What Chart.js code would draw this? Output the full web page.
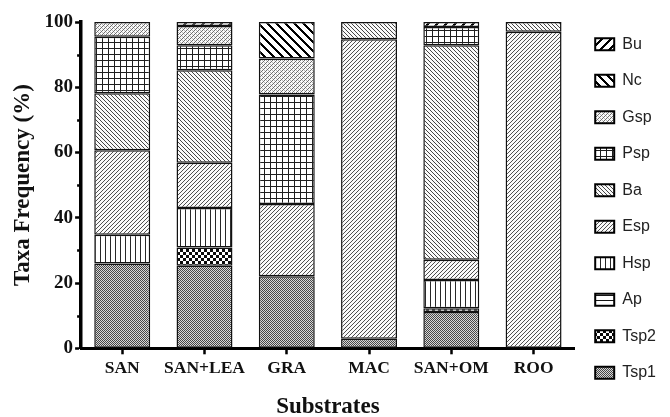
<!DOCTYPE html>
<html>
<head>
<meta charset="utf-8">
<script src="https://cdn.jsdelivr.net/npm/chart.js@4.4.1/dist/chart.umd.min.js"></script>
<style>
  html, body { margin: 0; padding: 0; background: #fff; }
  #wrap { width: 670px; height: 417px; }
</style>
</head>
<body>
<div id="wrap"><canvas id="chart" width="670" height="417"></canvas></div>
<script>
// values (% of taxa per substrate)
const categories = ['SAN', 'SAN+LEA', 'GRA', 'MAC', 'SAN+OM', 'ROO'];
const tsp1 = [26.0, 25.3, 22.1, 2.9, 11.1, 0];
const tsp2 = [0, 5.6, 0, 0, 1.2, 0];
const ap = [0, 0, 0, 0, 0, 0];
const hsp = [8.8, 12.1, 0, 0, 8.6, 0];
const esp = [25.9, 13.9, 22.1, 91.8, 6.2, 97.0];
const ba = [17.5, 28.3, 0, 5.3, 65.8, 3.0];
const psp = [17.3, 7.7, 33.6, 0, 5.6, 0];
const gsp = [4.5, 5.9, 11.0, 0, 0, 0];
const nc = [0, 0, 11.2, 0, 0, 0];
const bu = [0, 1.2, 0, 0, 1.5, 0];
const yTicks = [0, 20, 40, 60, 80, 100];
const yMinorTicks = [10, 30, 50, 70, 90];

// small pixel tiles turned into canvas patterns
function makePattern(size, shade) {
    const c = document.createElement('canvas');
    c.width = size;
    c.height = size;
    const g = c.getContext('2d');
    const img = g.createImageData(size, size);
    for (let y = 0; y < size; y++) {
        for (let x = 0; x < size; x++) {
            const v = shade(x, y);
            const i = (y * size + x) * 4;
            img.data[i] = v;
            img.data[i + 1] = v;
            img.data[i + 2] = v;
            img.data[i + 3] = 255;
        }
    }
    g.putImageData(img, 0, 0);
    return g.createPattern(c, 'repeat');
}

const patterns = {
    tsp1: makePattern(4, (x, y) => (x + y) % 2 === 0 ? 70 : ((x % 4 === 1 && y % 4 === 1) ? 120 : 215)),
    tsp2: makePattern(6, (x, y) => (Math.floor(x / 3) + Math.floor(y / 3)) % 2 ? 10 : 255),
    ap: makePattern(5, (x, y) => y % 5 === 0 ? 20 : 255),
    hsp: makePattern(5, (x, y) => x % 5 === 0 ? 40 : 255),
    esp: makePattern(4, (x, y) => (x + y) % 4 === 0 ? 80 : 250),
    ba: makePattern(4, (x, y) => (x - y + 8) % 4 === 0 ? 70 : 250),
    psp: makePattern(6, (x, y) => (x % 6 === 0 || y % 6 === 0) ? 30 : 255),
    gsp: makePattern(4, (x, y) => (x + y) % 4 === 0 ? 110 : ((x - y + 8) % 4 === 2 ? 185 : 250)),
    nc: makePattern(9, (x, y) => ((x - y + 18) % 9) < 3 ? 0 : 255),
    bu: makePattern(9, (x, y) => ((x + y) % 9) < 3 ? 0 : 255)
};

function series(label, data, fill) {
    return {
        label: label,
        data: data,
        backgroundColor: fill,
        borderColor: '#111',
        borderWidth: ctx => (ctx.raw === 0 ? 0 : 1.5),
        borderSkipped: false,
        categoryPercentage: 1,
        barPercentage: 0.68
    };
}

// draws the short unlabelled ticks on the y axis
const minorTicks = {
    id: 'minorTicks',
    afterDraw(chart) {
        const y = chart.scales.y;
        const ctx = chart.ctx;
        ctx.save();
        ctx.strokeStyle = '#000';
        ctx.lineWidth = 2.5;
        yMinorTicks.forEach(v => {
            const py = Math.round(y.getPixelForValue(v)) + 0.5;
            ctx.beginPath();
            ctx.moveTo(y.right - 4, py);
            ctx.lineTo(y.right, py);
            ctx.stroke();
        });
        ctx.restore();
    }
};

const serif = '"Liberation Serif", "Times New Roman", serif';

new Chart(document.getElementById('chart').getContext('2d'), {
    type: 'bar',
    data: {
        labels: categories,
        datasets: [
            series('Tsp1', tsp1, patterns.tsp1),
            series('Tsp2', tsp2, patterns.tsp2),
            series('Ap', ap, patterns.ap),
            series('Hsp', hsp, patterns.hsp),
            series('Esp', esp, patterns.esp),
            series('Ba', ba, patterns.ba),
            series('Psp', psp, patterns.psp),
            series('Gsp', gsp, patterns.gsp),
            series('Nc', nc, patterns.nc),
            series('Bu', bu, patterns.bu)
        ]
    },
    options: {
        responsive: false,
        animation: false,
        layout: { padding: { left: 3, top: 0, right: 4, bottom: 0 } },
        plugins: {
            tooltip: { enabled: false },
            legend: {
                position: 'right',
                reverse: true,
                labels: {
                    boxWidth: 19,
                    boxHeight: 12,
                    padding: 20.5,
                    color: '#222',
                    font: { family: '"Liberation Sans", Arial, sans-serif', size: 16 },
                    generateLabels: chart => Chart.defaults.plugins.legend.labels.generateLabels(chart)
                        .map(item => Object.assign(item, { lineWidth: 2, strokeStyle: '#000' }))
                }
            }
        },
        scales: {
            x: {
                stacked: true,
                border: { color: '#000', width: 3 },
                grid: { drawOnChartArea: false, offset: false, color: '#000', tickLength: 6, tickWidth: 2.5 },
                ticks: {
                    color: '#111',
                    padding: 4,
                    maxRotation: 0,
                    minRotation: 0,
                    autoSkip: false,
                    font: { family: serif, size: 17.5, weight: 'bold' }
                },
                title: {
                    display: true,
                    text: 'Substrates',
                    color: '#111',
                    padding: { top: 13, bottom: 0 },
                    font: { family: serif, size: 23, weight: 'bold', lineHeight: 0.9 }
                }
            },
            y: {
                stacked: true,
                min: 0,
                max: 100,
                border: { color: '#000', width: 3.5 },
                grid: { drawOnChartArea: false, color: '#000', tickLength: 6, tickWidth: 2.5 },
                afterBuildTicks: scale => { scale.ticks = yTicks.map(v => ({ value: v })); },
                afterFit: scale => { scale.paddingTop = 22; },
                ticks: { color: '#111', padding: 2, font: { family: serif, size: 19, weight: 'bold' } },
                title: {
                    display: true,
                    text: 'Taxa Frequency (%)',
                    color: '#111',
                    padding: { top: 6, bottom: 6 },
                    font: { family: serif, size: 23, weight: 'bold' }
                }
            }
        }
    },
    plugins: [minorTicks]
});
</script>
</body>
</html>
